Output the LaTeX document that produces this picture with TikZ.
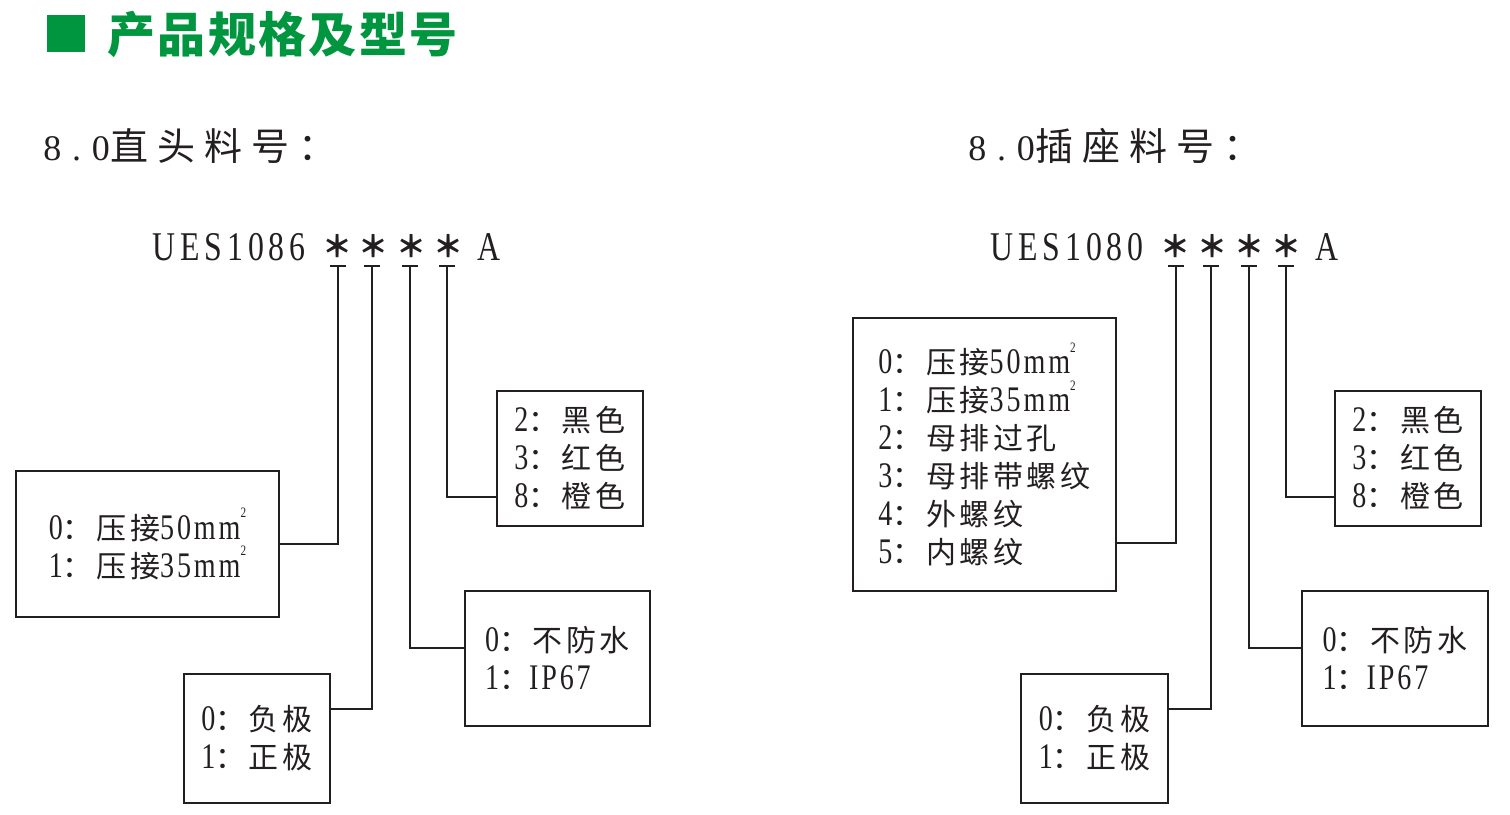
\documentclass[tikz,border=0pt]{standalone}
\usepackage{fontspec}
\setmainfont{Liberation Serif}[Scale=1.2, FakeStretch=0.78, LetterSpace=8]
\newfontfamily\codefont{Liberation Serif}[Scale=1.2, FakeStretch=0.78, LetterSpace=12]
\newfontfamily\headlat{Liberation Serif}[LetterSpace=30]
\newfontfamily\cj{Noto Sans CJK SC}[LetterSpace=12]
\newfontfamily\cjhead{Noto Sans CJK SC}[LetterSpace=24]
\newfontfamily\cjtitle{Noto Sans CJK SC}[LetterSpace=5]
\usetikzlibrary{positioning}
\definecolor{titlegreen}{RGB}{0,150,64}
\definecolor{ink}{RGB}{35,31,32}
\newcommand{\sqr}{\raisebox{1.3ex}{\fontsize{6pt}{6pt}\selectfont 2}}

\begin{document}
\begin{tikzpicture}[x=0.5pt, y=-0.5pt,
  optbox/.style={draw=ink, line width=1pt, align=left, inner sep=0pt, text=ink, font=\fontsize{15pt}{19pt}\selectfont},
  code/.style={inner sep=0pt, text=ink, font=\codefont\fontsize{17pt}{17pt}\selectfont},
  astx/.style={inner sep=0pt, text=ink, font=\cj\bfseries\fontsize{15pt}{15pt}\selectfont},
  head/.style={inner sep=0pt, anchor=base west, text=ink, font=\fontsize{18pt}{18pt}\selectfont},
  link/.style={draw=ink, line width=1pt}
]
\useasboundingbox (0,0) rectangle (1510,814);

% title
\node[fill=titlegreen, minimum width=19pt, minimum height=18.5pt, inner sep=0pt] (mark) at (66,33.5) {};
\node[anchor=west, inner sep=0pt, text=titlegreen, font=\cjtitle\bfseries\fontsize{24pt}{24pt}\selectfont] (title) at (107,34) {产品规格及型号};

% straight head
\node[head] (headL) at (43,160) {{\headlat 8.0}{\cjhead\fontsize{19pt}{19pt}\selectfont 直头料号：}};
\node[code, anchor=base west] (codeL) at (152,260) {UES1086};
\node[astx] (sl1) at (337,246) {＊};
\node[astx] (sl2) at (373,246) {＊};
\node[astx] (sl3) at (411,246) {＊};
\node[astx] (sl4) at (448,246) {＊};
\node[code, anchor=base] (endL) at (489,260) {A};
\coordinate (tl1) at (338,266);
\coordinate (tl2) at (372,266);
\coordinate (tl3) at (410,266);
\coordinate (tl4) at (447,266);

\node[optbox, minimum width=131.5pt, minimum height=73pt] (boxL1) at (147.5,544)
  {0{\cj ：压接}50mm\sqr\\1{\cj ：压接}35mm\sqr};
\node[optbox, minimum width=73pt, minimum height=64.5pt] (boxL2) at (257,738.5)
  {0{\cj ：负极}\\1{\cj ：正极}};
\node[optbox, minimum width=92.5pt, minimum height=67.5pt] (boxL3) at (557.5,658.5)
  {0{\cj ：不防水}\\1{\cj ：}IP67};
\node[optbox, minimum width=73pt, minimum height=67.5pt] (boxL4) at (570,458.5)
  {2{\cj ：黑色}\\3{\cj ：红色}\\8{\cj ：橙色}};

\draw[link] ([xshift=-4pt]tl1) -- ([xshift=4pt]tl1);
\draw[link] ([xshift=-4pt]tl2) -- ([xshift=4pt]tl2);
\draw[link] ([xshift=-4pt]tl3) -- ([xshift=4pt]tl3);
\draw[link] ([xshift=-4pt]tl4) -- ([xshift=4pt]tl4);
\draw[link] (tl1) |- (boxL1.east);
\draw[link] (tl2) |- ([yshift=14.75pt]boxL2.east);
\draw[link] (tl3) |- ([yshift=5.25pt]boxL3.west);
\draw[link] (tl4) |- ([yshift=-19.25pt]boxL4.west);

% socket
\node[head] (headR) at (968,160) {{\headlat 8.0}{\cjhead\fontsize{19pt}{19pt}\selectfont 插座料号：}};
\node[code, anchor=base west] (codeR) at (990,260) {UES1080};
\node[astx] (sr1) at (1175,246) {＊};
\node[astx] (sr2) at (1212,246) {＊};
\node[astx] (sr3) at (1249,246) {＊};
\node[astx] (sr4) at (1286,246) {＊};
\node[code, anchor=base] (endR) at (1327,260) {A};
\coordinate (tr1) at (1176,266);
\coordinate (tr2) at (1211,266);
\coordinate (tr3) at (1249,266);
\coordinate (tr4) at (1286,266);

\node[optbox, minimum width=131.5pt, minimum height=136.5pt] (boxR1) at (984.5,454.5)
  {0{\cj ：压接}50mm\sqr\\1{\cj ：压接}35mm\sqr\\2{\cj ：母排过孔}\\3{\cj ：母排带螺纹}\\4{\cj ：外螺纹}\\5{\cj ：内螺纹}};
\node[optbox, minimum width=73.5pt, minimum height=64.5pt] (boxR2) at (1094.5,738.5)
  {0{\cj ：负极}\\1{\cj ：正极}};
\node[optbox, minimum width=93pt, minimum height=67.5pt] (boxR3) at (1395,658.5)
  {0{\cj ：不防水}\\1{\cj ：}IP67};
\node[optbox, minimum width=73pt, minimum height=67.5pt] (boxR4) at (1408,458.5)
  {2{\cj ：黑色}\\3{\cj ：红色}\\8{\cj ：橙色}};

\draw[link] ([xshift=-4pt]tr1) -- ([xshift=4pt]tr1);
\draw[link] ([xshift=-4pt]tr2) -- ([xshift=4pt]tr2);
\draw[link] ([xshift=-4pt]tr3) -- ([xshift=4pt]tr3);
\draw[link] ([xshift=-4pt]tr4) -- ([xshift=4pt]tr4);
\draw[link] (tr1) |- ([yshift=-44.25pt]boxR1.east);
\draw[link] (tr2) |- ([yshift=14.75pt]boxR2.east);
\draw[link] (tr3) |- ([yshift=5.25pt]boxR3.west);
\draw[link] (tr4) |- ([yshift=-19.25pt]boxR4.west);
\end{tikzpicture}
\end{document}
